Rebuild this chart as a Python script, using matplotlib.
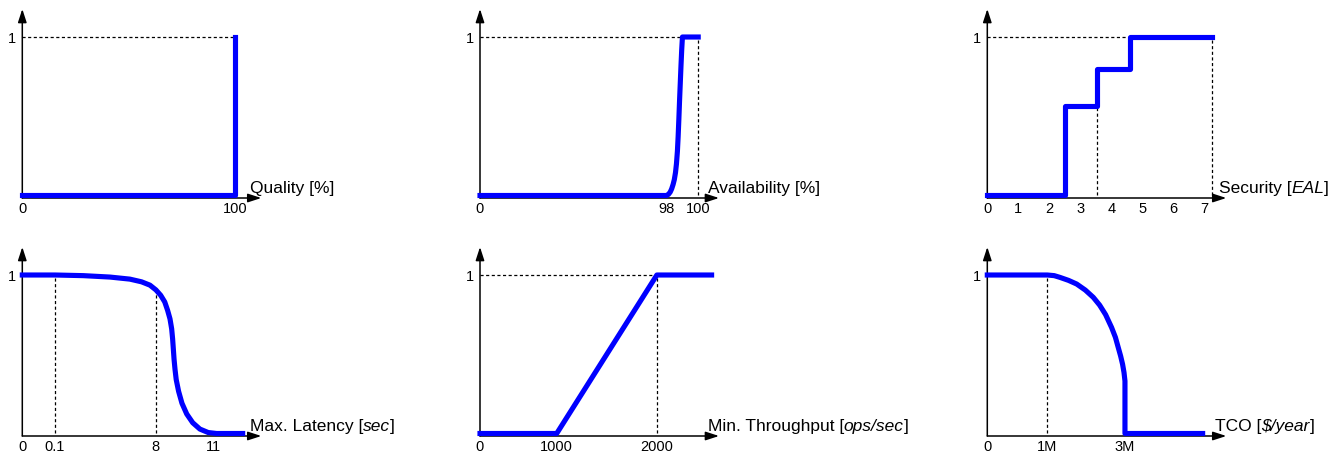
import matplotlib
matplotlib.use("Agg")
import matplotlib.pyplot as plt

plt.rcParams['font.family'] = ['Liberation Sans', 'DejaVu Sans']

BLUE = '#0000ff'

# Quality [%] (natural units)
quality_x = [0, 100, 100]
quality_y = [0, 0, 1]
quality_ticks = [0, 100]
quality_labels = ['0', '100']

# Availability (x = position along the axis, 0..1)
avail_x = [0, 0.781, 0.789, 0.796, 0.802, 0.808, 0.813, 0.818, 0.822, 0.826,
           0.829, 0.832, 0.835, 0.838, 0.841, 0.844, 0.847, 0.913]
avail_y = [0, 0, 0.008, 0.022, 0.042, 0.07, 0.10, 0.145, 0.20, 0.28,
           0.37, 0.48, 0.60, 0.71, 0.82, 0.92, 1, 1]
avail_ticks = [0, 0.782, 0.913]
avail_labels = ['0', '98', '100']

# Security [EAL] (natural units)
sec_x = [0, 2.5, 2.5, 3.55, 3.55, 4.6, 4.6, 7.25]
sec_y = [0, 0, 0.565, 0.565, 0.80, 0.80, 1, 1]
sec_ticks = [0, 1, 2, 3, 4, 5, 6, 7]
sec_labels = ['0', '1', '2', '3', '4', '5', '6', '7']

# Max. latency (x = position along the axis)
lat_x = [0, 0.137, 0.255, 0.367, 0.450, 0.499, 0.534, 0.559, 0.579, 0.596,
         0.608, 0.618, 0.625, 0.629, 0.632, 0.635, 0.639, 0.644, 0.654, 0.668,
         0.688, 0.713, 0.743, 0.778, 0.813, 0.922]
lat_y = [1.0, 1.0, 0.996, 0.987, 0.974, 0.957, 0.936, 0.906, 0.872, 0.830,
         0.777, 0.723, 0.660, 0.596, 0.532, 0.468, 0.404, 0.340, 0.266, 0.191,
         0.123, 0.068, 0.028, 0.006, 0.0, 0.0]
lat_ticks = [0, 0.137, 0.559, 0.799]
lat_labels = ['0', '0.1', '8', '11']

# Min. throughput (x = position along the axis)
tp_x = [0, 0.321, 0.74, 0.969]
tp_y = [0, 0, 1, 1]
tp_ticks = [0, 0.321, 0.74]
tp_labels = ['0', '1000', '2000']

# TCO (x = position along the axis)
tco_x = [0, 0.251, 0.28, 0.304, 0.34, 0.374, 0.41, 0.4435, 0.47, 0.495,
         0.520, 0.536, 0.548, 0.558, 0.566, 0.572, 0.576, 0.576, 0.901]
tco_y = [1, 1, 0.996, 0.985, 0.966, 0.943, 0.905, 0.859, 0.810, 0.750,
         0.669, 0.607, 0.542, 0.488, 0.437, 0.385, 0.331, 0, 0]
tco_ticks = [0, 0.251, 0.576]
tco_labels = ['0', '1M', '3M']

# axis titles: (text, italic) pieces
quality_title = [('Quality [%]', False)]
avail_title = [('Availability [%]', False)]
sec_title = [('Security [', False), ('EAL', True), (']', False)]
lat_title = [('Max. Latency [', False), ('sec', True), (']', False)]
tp_title = [('Min. Throughput [', False), ('ops/sec', True), (']', False)]
tco_title = [('TCO [', False), ('$/year', True), (']', False)]

W, H = 1333, 453
fig = plt.figure(figsize=(W / 100, H / 100), dpi=100)

cols = [22.3, 480, 987.3]     # px of the y axis
rows = [198, 436]             # px of the x axis (from top)
ax_w, ax_h = 239, 189


def make_ax(col, row):
    return fig.add_axes([cols[col] / W, (H - rows[row]) / H, ax_w / W, ax_h / H])


def guide(ax, xs, ys):
    ax.plot(xs, ys, color='black', lw=0.9, ls=(0, (2.5, 2)), zorder=2, clip_on=False)


def axis_title(ax, parts, x):
    txt, it = parts[0]
    t = ax.text(x, 0.028, txt, transform=ax.transAxes, fontsize=12.5,
                va='baseline', ha='left', style='italic' if it else 'normal')
    for txt, it in parts[1:]:
        t = ax.annotate(txt, xy=(1, 0), xycoords=t, va='bottom', ha='left',
                        fontsize=12.5, style='italic' if it else 'normal')


def draw_panel(ax, xmax, ticks, labels, cx, cy, title, title_x=0.952):
    ax.set_xlim(0, xmax)
    ax.set_ylim(-0.0158, 1.1767)
    ax.patch.set_alpha(0)
    for s in ax.spines.values():
        s.set_visible(False)
    ax.set_xticks(ticks, labels)
    ax.set_yticks([1], ['1'])
    ax.tick_params(length=0, labelsize=10.5)
    ax.tick_params(axis='x', pad=3)
    ax.tick_params(axis='y', pad=4.5)
    arrow = dict(arrowstyle='-|>,head_length=0.4,head_width=0.13', color='black',
                 lw=1.1, shrinkA=0, shrinkB=0, mutation_scale=20)
    ax.annotate('', xy=(1, 0), xytext=(0, 0), xycoords='axes fraction', arrowprops=arrow)
    ax.annotate('', xy=(0, 1), xytext=(0, 0), xycoords='axes fraction', arrowprops=arrow)
    ax.plot(cx, cy, color=BLUE, lw=3.7, clip_on=False, zorder=3)
    axis_title(ax, title, title_x)


# Quality
ax = make_ax(0, 0)
guide(ax, [0, quality_x[-1]], [1, 1])
draw_panel(ax, 112.4, quality_ticks, quality_labels, quality_x, quality_y, quality_title)

# Availability
ax = make_ax(1, 0)
guide(ax, [0, avail_x[-1]], [1, 1])
guide(ax, [avail_x[-1], avail_x[-1]], [0, 1])
draw_panel(ax, 1.0, avail_ticks, avail_labels, avail_x, avail_y, avail_title)

# Security
ax = make_ax(2, 0)
guide(ax, [0, sec_x[-1]], [1, 1])
for i in (2, 4, 7):
    guide(ax, [sec_x[i], sec_x[i]], [0, sec_y[i - 1] if i < 7 else 1])
draw_panel(ax, 7.71, sec_ticks, sec_labels, sec_x, sec_y, sec_title, title_x=0.968)

# Latency
ax = make_ax(0, 1)
guide(ax, [lat_x[1], lat_x[1]], [0, lat_y[1]])
guide(ax, [lat_x[7], lat_x[7]], [0, lat_y[7]])
draw_panel(ax, 1.0, lat_ticks, lat_labels, lat_x, lat_y, lat_title)

# Throughput
ax = make_ax(1, 1)
guide(ax, [0, tp_x[2]], [1, 1])
guide(ax, [tp_x[2], tp_x[2]], [0, 1])
draw_panel(ax, 1.0, tp_ticks, tp_labels, tp_x, tp_y, tp_title)

# TCO
ax = make_ax(2, 1)
guide(ax, [tco_x[1], tco_x[1]], [0, 1])
draw_panel(ax, 1.0, tco_ticks, tco_labels, tco_x, tco_y, tco_title)

fig.savefig('out.png', dpi=100)
